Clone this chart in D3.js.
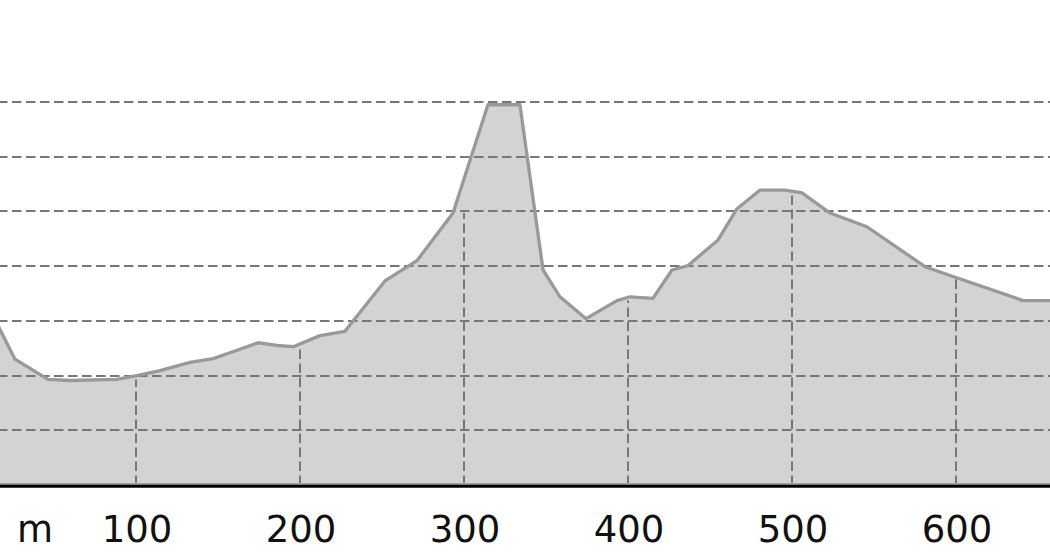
<!DOCTYPE html>
<html>
<head>
<meta charset="utf-8">
<script src="https://cdn.jsdelivr.net/npm/d3@7"></script>
<style>
  html, body { margin: 0; padding: 0; background: #fff; }
  svg { display: block; }
</style>
</head>
<body>
<svg id="chart" width="1050" height="560"></svg>
<script>
// Distance along route (m)
const distance = [10, 17.1, 26.2, 46.3, 59.8, 88.4, 100.6, 114.6, 132.9, 147.0, 163.4, 174.4, 186.0, 196.3,
  212.2, 227.4, 251.8, 271.3, 293.3, 314.6, 334.1, 348.2, 358.5, 374.4, 393.3, 401.2, 415.2, 426.8, 436.6,
  454.9, 466.5, 480.5, 495.7, 506.1, 523.2, 545.7, 581.1, 598.2, 640.9, 660];
// Elevation (relative units)
const elevation = [32.5, 28.4, 23.0, 19.3, 19.1, 19.3, 20.0, 20.9, 22.4, 23.1, 24.8, 26.0, 25.5, 25.3,
  27.3, 28.1, 37.3, 41.0, 49.7, 69.5, 69.5, 39.3, 34.4, 30.4, 33.7, 34.4, 34.1, 39.3, 40.1,
  44.8, 50.5, 53.9, 53.9, 53.4, 49.7, 47.2, 39.9, 38.1, 33.7, 33.7];
const xTicks = [100, 200, 300, 400, 500, 600];
const xTickLabels = ["100", "200", "300", "400", "500", "600"];
const yGrid = [10, 20, 30, 40, 50, 60, 70];
const unitLabel = "m";

const data = distance.map((d, i) => ({ d, e: elevation[i] }));

const svg = d3.select("#chart");
const x = d3.scaleLinear().domain([100, 600]).range([136, 956]);
const y = d3.scaleLinear().domain([0, 70]).range([485, 102]);

const area = d3.area().x(p => x(p.d)).y0(y(0)).y1(p => y(p.e));
const line = d3.line().x(p => x(p.d)).y(p => y(p.e));

svg.append("defs").append("clipPath").attr("id", "areaClip")
  .append("path").attr("d", area(data));

// fill
svg.append("path").attr("d", area(data)).attr("fill", "#d3d3d3");

// horizontal grid
svg.append("g").selectAll("line").data(yGrid).join("line")
  .attr("x1", 0).attr("x2", 1050)
  .attr("y1", v => Math.round(y(v))).attr("y2", v => Math.round(y(v)))
  .attr("stroke", "#777").attr("stroke-width", 2)
  .attr("stroke-dasharray", "9.5,4.5").attr("stroke-dashoffset", 2);

// vertical grid: from the axis up to the elevation of the last sample before the tick
const bis = d3.bisector(p => p.d).right;
const sampleBefore = t => data[Math.max(0, bis(data, t) - 1)];
svg.append("g").attr("clip-path", "url(#areaClip)").selectAll("line").data(xTicks).join("line")
  .attr("x1", v => x(v)).attr("x2", v => x(v))
  .attr("y1", y(0)).attr("y2", v => y(sampleBefore(v).e))
  .attr("stroke", "#777").attr("stroke-width", 2).attr("stroke-dasharray", "9.5,4.5");

// profile line
svg.append("path").attr("d", line(data)).attr("fill", "none")
  .attr("stroke", "#999").attr("stroke-width", 3.3).attr("stroke-linejoin", "round");

// base lines
svg.append("line").attr("x1", 0).attr("x2", 1050).attr("y1", 484).attr("y2", 484)
  .attr("stroke", "#a0a0a0").attr("stroke-width", 2);
svg.append("line").attr("x1", 0).attr("x2", 1050).attr("y1", 486.3).attr("y2", 486.3)
  .attr("stroke", "#000").attr("stroke-width", 3);

// labels
svg.append("g").selectAll("text").data(xTicks).join("text")
  .attr("x", v => x(v) + 1).attr("y", 542)
  .attr("text-anchor", "middle")
  .attr("font-family", "DejaVu Sans")
  .attr("font-size", 37).attr("fill", "#111")
  .text((v, i) => xTickLabels[i]);
svg.append("text").attr("x", 35).attr("y", 542).attr("text-anchor", "middle")
  .attr("font-family", "DejaVu Sans").attr("font-size", 37).attr("fill", "#111")
  .text(unitLabel);
</script>
</body>
</html>
